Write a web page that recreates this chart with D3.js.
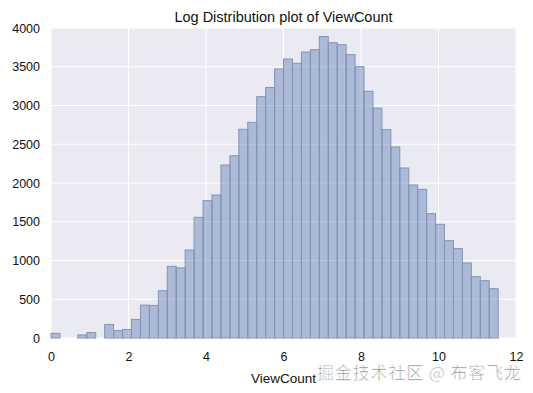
<!DOCTYPE html>
<html lang="en">
<head>
  <title>Log Distribution plot of ViewCount</title>
  <meta charset="UTF-8">
  <style>
    body { margin: 0; background: #fff; font-family: "Liberation Sans", Arial, sans-serif; }
  </style>
  <script src="https://cdn.jsdelivr.net/npm/d3@7"></script>
</head>
<body>
<script>
// histogram of log(ViewCount): 50 equal bins between binMin and binMax
var binMin = 0;
var binMax = 11.54;
var counts = [
  60, 0, 0, 40, 70, 0, 175, 95, 110, 240,
  425, 420, 610, 925, 905, 1135, 1557, 1772, 1845, 2232,
  2352, 2693, 2783, 3114, 3232, 3471, 3600, 3545, 3690, 3720,
  3890, 3810, 3785, 3656, 3501, 3183, 2966, 2688, 2465, 2194,
  1974, 1918, 1604, 1467, 1256, 1153, 968, 791, 740, 636
];
var xTicks = [0, 2, 4, 6, 8, 10, 12];
var yTicks = [0, 500, 1000, 1500, 2000, 2500, 3000, 3500, 4000];

var W = 533, H = 393;
var margin = {top: 28, right: 17, bottom: 55, left: 51};

var svg = d3.select("body").append("svg")
  .attr("width", W)
  .attr("height", H);

var x = d3.scaleLinear().domain([0, 12]).range([margin.left, W - margin.right]);
var y = d3.scaleLinear().domain([0, 4000]).range([H - margin.bottom, margin.top]);

var binW = (binMax - binMin) / counts.length;
var bins = counts.map(function(c, i) {
  return {x0: binMin + i * binW, x1: binMin + (i + 1) * binW, n: c};
});

// background
svg.append("rect")
  .attr("x", x(0)).attr("y", y(4000))
  .attr("width", x(12) - x(0)).attr("height", y(0) - y(4000))
  .attr("fill", "#EAEAF2");

// grid
var grid = svg.append("g").attr("stroke", "#fff").attr("stroke-width", 1);
grid.selectAll(".gy").data(yTicks).enter().append("line")
  .attr("x1", x(0)).attr("x2", x(12))
  .attr("y1", function(d){ return y(d); }).attr("y2", function(d){ return y(d); });
grid.selectAll(".gx").data(xTicks).enter().append("line")
  .attr("y1", y(0)).attr("y2", y(4000))
  .attr("x1", function(d){ return x(d); }).attr("x2", function(d){ return x(d); });

// bars
svg.append("g").selectAll("rect").data(bins.filter(function(d){ return d.n > 0; }))
  .enter().append("rect")
  .attr("x", function(d){ return x(d.x0); })
  .attr("width", function(d){ return x(d.x1) - x(d.x0); })
  .attr("y", function(d){ return y(d.n); })
  .attr("height", function(d){ return y(0) - y(d.n); })
  .attr("fill", "#4C72B0")
  .attr("fill-opacity", 0.4)
  .attr("stroke", "#8494B6")
  .attr("stroke-width", 1);

// axes, no tick marks
var xAxis = svg.append("g")
  .attr("transform", "translate(0," + y(0) + ")")
  .call(d3.axisBottom(x).tickValues(xTicks).tickFormat(d3.format("d")).tickSize(0).tickPadding(14));
var yAxis = svg.append("g")
  .attr("transform", "translate(" + x(0) + ",0)")
  .call(d3.axisLeft(y).tickValues(yTicks).tickFormat(d3.format("d")).tickSize(0).tickPadding(11));
[xAxis, yAxis].forEach(function(a) {
  a.select(".domain").remove();
  a.selectAll("text")
    .attr("fill", "#111")
    .style("font-family", "'Liberation Sans', Arial, sans-serif")
    .style("font-size", "12.5px");
});

// title
svg.append("text")
  .attr("x", (x(0) + x(12)) / 2).attr("y", 22)
  .attr("text-anchor", "middle")
  .attr("fill", "#111")
  .style("font-size", "14.5px")
  .text("Log Distribution plot of ViewCount");

// x label
svg.append("text")
  .attr("x", (x(0) + x(12)) / 2).attr("y", 383)
  .attr("text-anchor", "middle")
  .attr("fill", "#111")
  .style("font-size", "13.5px")
  .text("ViewCount");

// watermark
svg.append("text")
  .attr("x", 317).attr("y", 379)
  .attr("textLength", 204)
  .attr("fill", "#8c8c8c")
  .attr("stroke", "#fff")
  .attr("stroke-width", 0.6)
  .style("font-family", "'Noto Sans CJK SC', sans-serif")
  .style("font-size", "17px")
  .text("掘金技术社区 @ 布客飞龙");
</script>
</body>
</html>
